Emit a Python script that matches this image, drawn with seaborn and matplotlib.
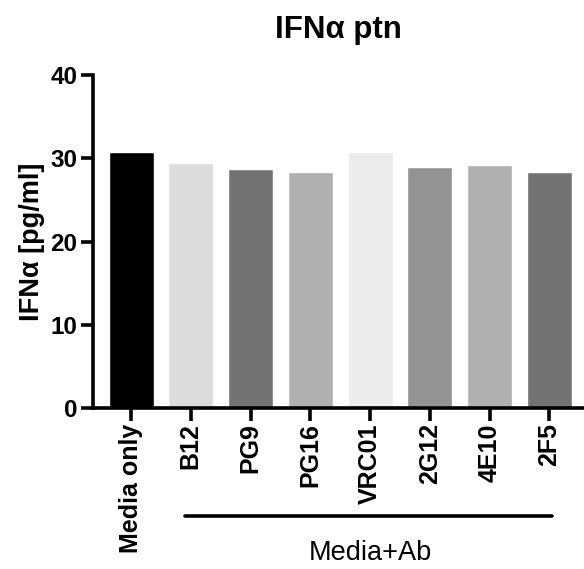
import matplotlib
matplotlib.use("Agg")
import matplotlib.pyplot as plt
import matplotlib.transforms as mtransforms
import seaborn as sns
import pandas as pd

# values
groups = ["Media only", "B12", "PG9", "PG16", "VRC01", "2G12", "4E10", "2F5"]
ifna = [30.7, 29.4, 28.7, 28.35, 30.8, 28.9, 29.2, 28.3]
bar_colors = ["#000000", "#dcdcdc", "#737373", "#b0b0b2",
              "#ececec", "#939393", "#b0b0b2", "#737373"]

df = pd.DataFrame({"group": groups, "ifna": ifna})

sns.set_style("ticks", {"axes.edgecolor": "black", "text.color": "black",
                        "xtick.color": "black", "ytick.color": "black",
                        "axes.labelcolor": "black"})
plt.rcParams["font.family"] = ["Liberation Sans", "DejaVu Sans"]

fig = plt.figure(figsize=(5.84, 5.69), dpi=100)
ax = fig.add_axes([0.159, 0.283, 0.841, 0.585])

sns.barplot(x="group", y="ifna", data=df, hue="group", palette=bar_colors,
            legend=False, width=0.75, saturation=1, ax=ax)

ax.set_ylim(0, 40)
ax.set_xlim(-0.64, 7.58)
ax.set_yticks([0, 10, 20, 30, 40])
ax.set_xlabel("")
ax.set_ylabel("IFNα [pg/ml]", fontsize=19.5, fontweight="bold", labelpad=4)
ax.set_title("IFNα ptn", fontsize=22.5, fontweight="bold", pad=27)

sns.despine(ax=ax)
for side in ["left", "bottom"]:
    ax.spines[side].set_linewidth(2.6)
ax.tick_params(axis="both", width=2.6, length=9, labelsize=17.5, pad=2)
for lab in ax.get_yticklabels():
    lab.set_fontweight("bold")
ax.set_xticks(range(len(groups)))
ax.set_xticklabels(groups, rotation=90, fontweight="bold", fontsize=18)

# bracket under the antibody groups
trans = mtransforms.blended_transform_factory(ax.transData, ax.transAxes)
ax.plot([0.9, 7.05], [-0.324, -0.324], color="black", lw=2.6,
        solid_capstyle="round", transform=trans, clip_on=False)
ax.text(4.0, -0.435, "Media+Ab", fontsize=19.5, ha="center", va="center",
        transform=trans)

fig.savefig("out.png", dpi=100)
